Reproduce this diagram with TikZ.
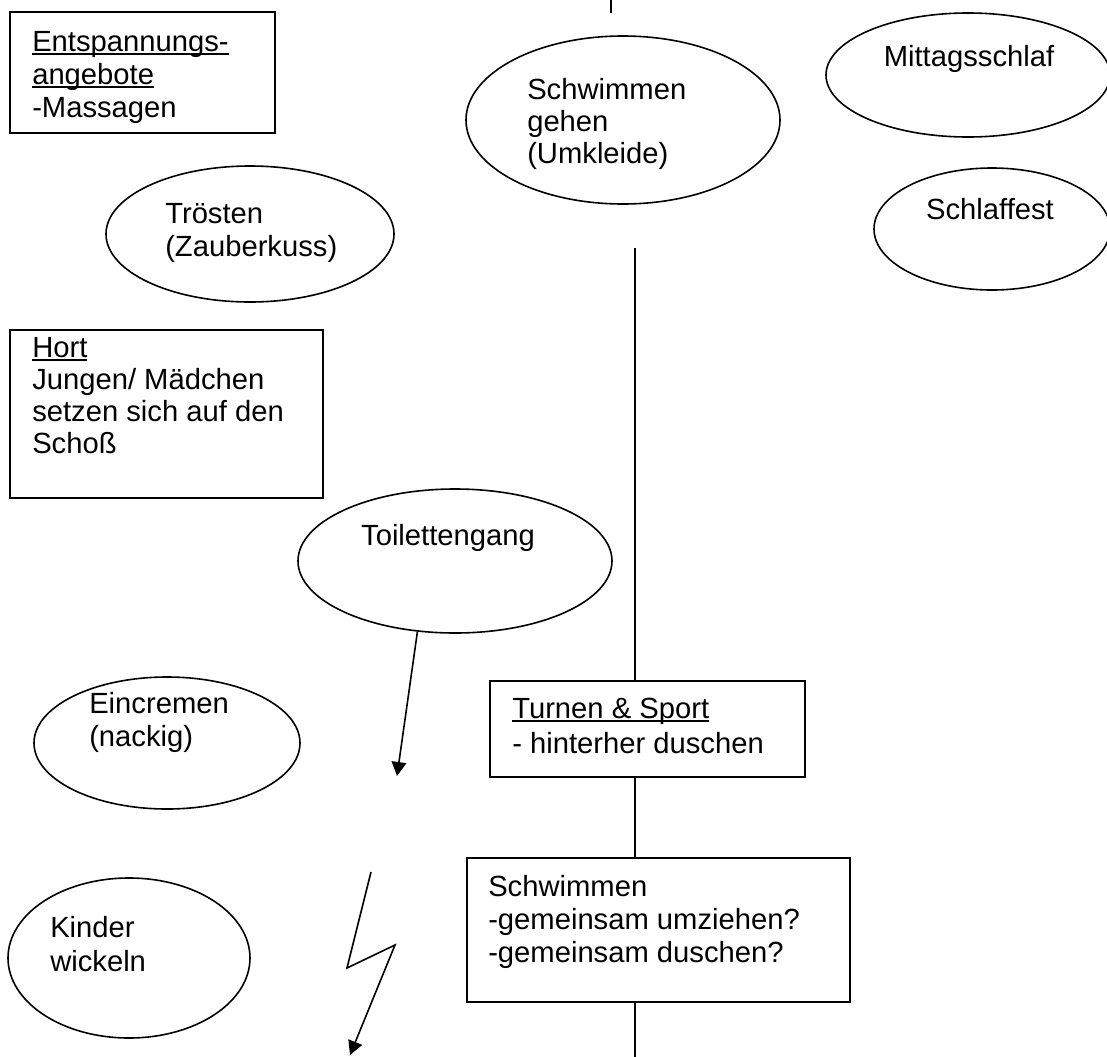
\documentclass[tikz,border=0pt]{standalone}
\usepackage{fontspec}
\setmainfont{Liberation Sans}
\usetikzlibrary{shapes.geometric,arrows.meta}
\newcommand\myul[1]{\setbox0\hbox{#1}\rlap{\rule[-3.2pt]{\wd0}{1.5pt}}\box0}
\begin{document}
\begin{tikzpicture}[x=0.75pt,y=-0.75pt,
  ell/.style={draw, ellipse, inner sep=0pt, line width=1.2pt},
  boxr/.style={draw, rectangle, inner sep=0pt, line width=1.3pt},
  txt/.style={anchor=base west, inner sep=0pt, font=\fontsize{21.9pt}{25pt}\selectfont},
  txtc/.style={anchor=base, inner sep=0pt, font=\fontsize{21.9pt}{25pt}\selectfont},
  conn/.style={line width=1.4pt},
  arr/.style={line width=1.2pt, -{Triangle[length=10.5pt,width=11pt]}}
]
\useasboundingbox (0,0) rectangle (1107,1057);

% boxes
\node[boxr, minimum width=198.75pt, minimum height=90.75pt] (ent) at (142.5,72.5) {};
\node[boxr, minimum width=234.75pt, minimum height=126pt] (hort) at (166.5,414) {};
\node[boxr, minimum width=236.25pt, minimum height=72pt] (turnen) at (647.5,729) {};
\node[boxr, minimum width=287.25pt, minimum height=108pt] (schwbox) at (658.5,930) {};

% ellipses
\node[ell, minimum width=235.5pt, minimum height=126pt] (schgeh) at (623,120) {};
\node[ell, minimum width=213pt, minimum height=93pt] (mittag) at (968,75) {};
\node[ell, minimum width=177pt, minimum height=91.5pt] (schlaf) at (992,229) {};
\node[ell, minimum width=216pt, minimum height=102pt] (troest) at (250,234) {};
\node[ell, minimum width=235.5pt, minimum height=108pt] (toil) at (455,561) {};
\node[ell, minimum width=199.5pt, minimum height=99pt] (einc) at (167,743) {};
\node[ell, minimum width=181.5pt, minimum height=120pt] (kinder) at (129,958) {};

% texts
\node[txt] (ent1) at (32,51) {\myul{Entspannungs-}};
\node[txt] (ent2) at (32,84) {\myul{angebote}};
\node[txt] (ent3) at (32,117) {-Massagen};

\node[txt] (sg1) at (527,99) {Schwimmen};
\node[txt] (sg2) at (527,131) {gehen};
\node[txt] (sg3) at (527,163) {(Umkleide)};

\node[txtc] (mt1) at (969,66) {Mittagsschlaf};
\node[txtc] (sf1) at (990,219) {Schlaffest};

\node[txt] (tr1) at (165,223) {Trösten};
\node[txt] (tr2) at (165,256) {(Zauberkuss)};

\node[txt] (ho1) at (32,357) {\myul{Hort}};
\node[txt] (ho2) at (32,389) {Jungen/ Mädchen};
\node[txt] (ho3) at (32,421) {setzen sich auf den};
\node[txt] (ho4) at (32,453) {Schoß};

\node[txtc] (to1) at (448,545) {Toilettengang};

\node[txt] (ei1) at (89,713) {Eincremen};
\node[txt] (ei2) at (89,746) {(nackig)};

\node[txt] (tu1) at (512,718) {\myul{Turnen \& Sport}};
\node[txt] (tu2) at (512,753) {- hinterher duschen};

\node[txt] (sb1) at (488,896) {Schwimmen};
\node[txt] (sb2) at (488,929) {-gemeinsam umziehen?};
\node[txt] (sb3) at (488,962) {-gemeinsam duschen?};

\node[txt] (ki1) at (50,937) {Kinder};
\node[txt] (ki2) at (50,971) {wickeln};

% connectors
\coordinate (t0) at (611,0);
\coordinate (t1) at (611,13);
\draw[conn] (t0) -- (t1);

\coordinate (v0) at (635,248);
\coordinate (vb) at (635,1057);
\draw[conn] (v0) -- (v0 |- turnen.north);
\draw[conn] (v0 |- turnen.south) -- (v0 |- schwbox.north);
\draw[conn] (v0 |- schwbox.south) -- (vb);

\coordinate (a1) at (397,776);
\draw[arr] (toil.242) -- (a1);

\coordinate (z0) at (371,872);
\coordinate (z1) at (347,968);
\coordinate (z2) at (395,945);
\coordinate (z3) at (350,1055);
\draw[arr] (z0) -- (z1) -- (z2) -- (z3);
\end{tikzpicture}
\end{document}
